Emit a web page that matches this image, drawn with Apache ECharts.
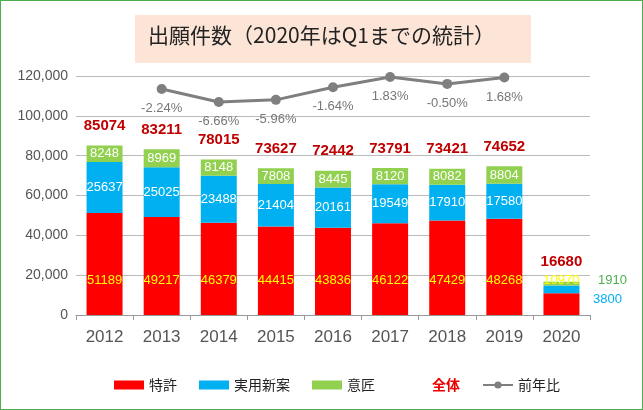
<!doctype html>
<html>
<head>
<meta charset="utf-8">
<script src="https://cdn.jsdelivr.net/npm/echarts@6/dist/echarts.min.js"></script>
</head>
<body style="margin:0">
<div id="c" style="width:643px;height:410px;box-sizing:border-box;border:1px solid #4cae4c;"></div>
<script>
var years = ['2012','2013','2014','2015','2016','2017','2018','2019','2020'];
var tokkyo = [51189,49217,46379,44415,43836,46122,47429,48268,10970];
var jitsuyo = [25637,25025,23488,21404,20161,19549,17910,17580,3800];
var isho = [8248,8969,8148,7808,8445,8120,8082,8804,1910];
var total = [85074,83211,78015,73627,72442,73791,73421,74652,16680];
var yoy = [null,-2.24,-6.66,-5.96,-1.64,1.83,-0.50,1.68,null];

var chart = echarts.init(document.getElementById('c'));
var font = 'Liberation Sans';
function inner(color, side) {
  return {
    show: true, color: color, fontSize: 13, fontFamily: font,
    formatter: function (p) {
      if (p.dataIndex === 8) return '';
      return p.value;
    }
  };
}
chart.setOption({
  animation: false,
  graphic: [{
    type: 'rect', shape: {x: 134, y: 14, width: 396, height: 48},
    style: {fill: '#fce4d6'}
  }, {
    type: 'text', left: 'center', top: 24,
    style: {text: '出願件数（2020年はQ1までの統計）', fontSize: 21, fill: '#222', fontFamily: 'Noto Sans CJK JP'}
  }, {
    type: 'text', left: 597, top: 273, style: {text: '1910', fontSize: 13, fill: '#4caf50', fontFamily: font}
  }, {
    type: 'text', left: 592, top: 292, style: {text: '3800', fontSize: 13, fill: '#00b0f0', fontFamily: font}
  }],
  grid: {left: 75, right: 52, top: 75, bottom: 94},
  legend: {
    bottom: 12, left: 108, itemWidth: 30, itemHeight: 9, itemGap: 22,
    textStyle: {fontSize: 14, fontFamily: 'Noto Sans CJK JP', color: '#222'},
    data: [{name: '特許', icon: 'rect'}, {name: '実用新案', icon: 'rect'}, {name: '意匠', icon: 'rect'},
           {name: '全体', icon: 'none', textStyle: {color: '#e00', fontWeight: 'bold'}}, {name: '前年比'}]
  },
  xAxis: {
    type: 'category', data: years,
    axisLine: {lineStyle: {color: '#999'}}, axisTick: {show: true, lineStyle: {color: '#999'}},
    axisLabel: {fontSize: 17, color: '#555', fontFamily: font, margin: 14}
  },
  yAxis: [{
    type: 'value', min: 0, max: 120000, interval: 20000,
    axisLine: {show: false}, axisTick: {show: false},
    axisLabel: {fontSize: 14, color: '#555', fontFamily: font},
    splitLine: {lineStyle: {color: '#bbb'}}
  }, {
    type: 'value', min: -79.5, max: 2.2, show: false, splitLine: {show: false}
  }],
  series: [{
    name: '特許', type: 'bar', stack: 's', barWidth: '63%', data: tokkyo,
    itemStyle: {color: '#ff0000'},
    label: {show: true, color: '#ffff00', fontSize: 13, fontFamily: font, position: 'insideBottom', distance: 28}
  }, {
    name: '実用新案', type: 'bar', stack: 's', data: jitsuyo,
    itemStyle: {color: '#00b0f0'}, label: inner('#fff')
  }, {
    name: '意匠', type: 'bar', stack: 's', data: isho,
    itemStyle: {color: '#92d050'}, label: inner('#fff')
  }, {
    name: '全体', type: 'bar', stack: 's', data: total.map(function () { return 0; }),
    itemStyle: {color: 'transparent'},
    label: {
      show: true, position: 'top', distance: 12, color: '#c00000', fontWeight: 'bold', fontSize: 15, fontFamily: font,
      formatter: function (p) { return total[p.dataIndex]; }
    }
  }, {
    name: '前年比', type: 'line', yAxisIndex: 1, data: yoy, symbol: 'circle', symbolSize: 10,
    lineStyle: {color: '#7f7f7f', width: 3}, itemStyle: {color: '#7f7f7f'},
    label: {show: true, position: 'bottom', distance: 8, color: '#777', fontSize: 13, fontFamily: font,
      formatter: function (p) { return p.value.toFixed(2) + '%'; }}
  }]
});
</script>
</body>
</html>
